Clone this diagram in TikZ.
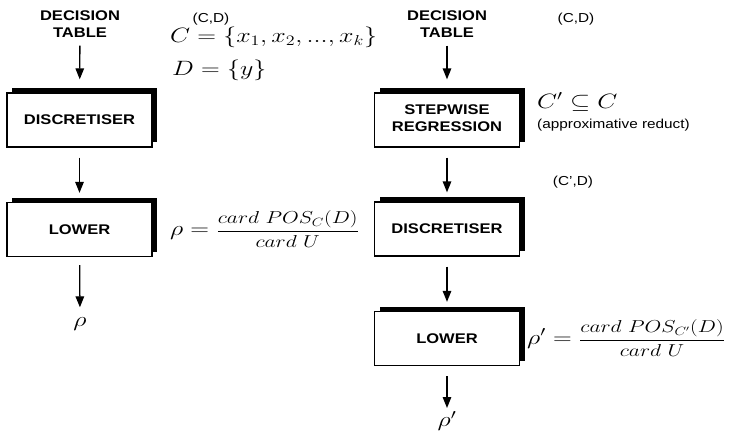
\documentclass[tikz,border=0pt]{standalone}
\usepackage{amsmath}
\usepackage{fontspec}
\usepackage{graphicx}
\usetikzlibrary{arrows.meta,shadows}
\newfontfamily\hv{Liberation Sans}
\newcommand{\sx}[1]{\scalebox{1.18}[1]{#1}}
\newcommand{\mx}[1]{\scalebox{1.25}[1]{#1}}
\newcommand{\fr}{\fontsize{17}{20}\selectfont}
\tikzset{
  blk/.style={draw, line width=1.3pt, fill=white, minimum width=145pt, minimum height=54pt,
    inner sep=0pt, font=\hv\bfseries\fontsize{14}{17}\selectfont, align=center,
    drop shadow={shadow xshift=5pt, shadow yshift=5pt, fill=black, opacity=1}},
  ttl/.style={inner sep=0pt, font=\hv\bfseries\fontsize{14}{17}\selectfont, align=center},
  small/.style={inner sep=0pt, font=\hv\fontsize{13}{15}\selectfont},
  mth/.style={inner sep=0pt, font=\fontsize{20}{24}\selectfont},
  arr/.style={line width=1.3pt, -{Triangle[length=11pt,width=8.5pt]}}
}
\begin{document}
\begin{tikzpicture}[x=1pt,y=-1pt]
\useasboundingbox (0,0) rectangle (735,444);
% left column
\node[ttl] (dt1) at (80,25.5) {\sx{\begin{tabular}{@{}c@{}}DECISION\\TABLE\end{tabular}}};
\node[blk] (disc1) at (79.5,120) {\sx{DISCRETISER}};
\node[blk] (low1) at (79.5,229.5) {\sx{LOWER}};
\node[mth] (rho1) at (80,324) {\mx{$\rho$}};
\node[small] (cd1) at (211,19) {\sx{(C,D)}};
\node[mth, anchor=base west] (ceq) at (170,42) {\mx{$C=\{x_1,x_2,...,x_k\}$}};
\node[mth, anchor=base west] (deq) at (172,75) {\mx{$D=\{y\}$}};
\node[mth, anchor=west] (f1) at (170,229) {\mx{$\rho={}$}\mx{\fr$\dfrac{card\ POS_C(D)}{card\ U}$}};
\draw[arr, shorten <=3pt, shorten >=13pt] (dt1) -- (disc1);
\draw[arr, shorten <=10pt, shorten >=9pt] (disc1) -- (low1);
\draw[arr, shorten <=8pt, shorten >=10pt] (low1) -- (rho1);
% right column
\node[ttl] (dt2) at (447,25.5) {\sx{\begin{tabular}{@{}c@{}}DECISION\\TABLE\end{tabular}}};
\node[small] (cd2) at (576,19) {\sx{(C,D)}};
\node[blk] (step) at (447,120) {\sx{\begin{tabular}{@{}c@{}}STEPWISE\\REGRESSION\end{tabular}}};
\node[mth, anchor=base west] (cp) at (537,108) {\mx{$C'\subseteq C$}};
\node[small, anchor=west] (appr) at (537,125) {\sx{(approximative reduct)}};
\node[small] (cpd) at (573,182) {\sx{(C’,D)}};
\node[blk] (disc2) at (447,229) {\sx{DISCRETISER}};
\node[blk] (low2) at (447,338.5) {\sx{LOWER}};
\node[mth, anchor=west] (f2) at (527,338) {\mx{$\rho'={}$}\mx{\fr$\dfrac{card\ POS_{C'}(D)}{card\ U}$}};
\node[mth] (rho2) at (447,421) {\mx{$\rho'$}};
\draw[arr, shorten <=3pt, shorten >=13pt] (dt2) -- (step);
\draw[arr, shorten <=10pt, shorten >=9pt] (step) -- (disc2);
\draw[arr, shorten <=10pt, shorten >=9pt] (disc2) -- (low2);
\draw[arr, shorten <=10pt, shorten >=3pt] (low2) -- (rho2);
\end{tikzpicture}
\end{document}
